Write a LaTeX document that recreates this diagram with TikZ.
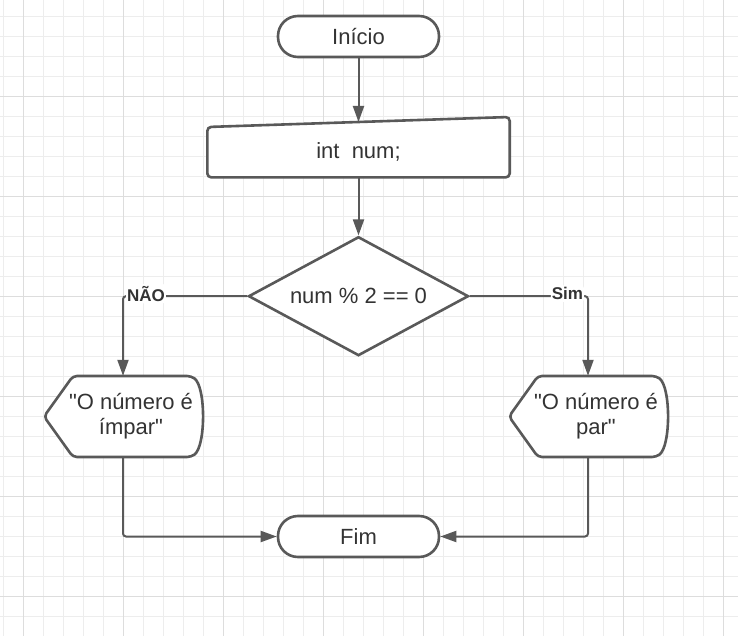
\documentclass[tikz,border=0pt]{standalone}
\usepackage{fontspec}
\setmainfont{Liberation Sans}
\usetikzlibrary{arrows.meta, positioning, shapes.geometric}
\usepackage{xcolor}
\definecolor{linegray}{HTML}{595959}
\definecolor{textgray}{HTML}{333333}
\definecolor{gridminor}{HTML}{EDEDED}
\definecolor{gridmajor}{HTML}{DDDDDD}
\pgfdeclarelayer{back}
\pgfsetlayers{back,main}

\begin{document}
\begin{tikzpicture}[
x=1pt, y=-1pt,
every node/.style={text=textgray, font=\fontsize{22}{25}\selectfont},
terminal/.style={draw=linegray,
fill=white,
line width=2.6pt,
rectangle,
rounded corners=20pt,
minimum width=161pt,
minimum height=41pt},
declbox/.style={rectangle,
minimum width=302pt,
minimum height=50pt},
decision/.style={draw=linegray,
fill=white,
line width=2.6pt,
diamond,
aspect=1.85,
inner sep=0pt,
minimum width=220pt,
minimum height=119pt},
display/.style={rectangle,
align=center,
inner sep=0pt,
minimum height=81pt},
shapeline/.style={draw=linegray, fill=white, line width=2.6pt, rounded corners=4pt},
arrow/.style={-{Triangle[length=16pt, width=11pt]}, draw=linegray, line width=2pt},
branch/.style={fill=white, inner xsep=1pt, inner ysep=2pt, yshift=2.5pt,
font=\fontsize{17}{20}\selectfont\bfseries},
gridthin/.style={draw=gridminor, line width=1pt},
gridthick/.style={draw=gridmajor, line width=1pt}
]

\useasboundingbox (0,0) rectangle (738,636);

\node[terminal] (inicio) at (358.5,36.5) {Início};
\node[declbox, below=68.7pt of inicio] (decl) {int~~num;};
\node[decision, below=58pt of decl] (cond) {num \% 2 == 0};
\node[display] (impar) at (131,416.5) {\textquotedbl O número é\\ ímpar\textquotedbl};
\node[display] (par) at (596,416.5) {\textquotedbl O número é\\ par\textquotedbl};
\node[terminal] (fim) at (358.5,536.5) {Fim};

\coordinate (naojoin) at (cond.west -| 123,0);
\coordinate (simjoin) at (cond.east -| 588,0);

\begin{pgfonlayer}{back}
\fill[white] (0,0) rectangle (738,636);
\foreach \gx in {3,23,...,723} \draw[gridthin] (\gx,0) -- (\gx,636);
\foreach \gy in {16.5,36.5,...,616.5} \draw[gridthin] (0,\gy) -- (738,\gy);
\foreach \gx in {23,123,...,723} \draw[gridthick] (\gx,0) -- (\gx,636);
\foreach \gy in {96.5,196.5,...,596.5} \draw[gridthick] (0,\gy) -- (738,\gy);

\draw[shapeline] (decl.south west) -- (decl.south east) -- ([yshift=10pt]decl.north east) -- (decl.north west) -- cycle;
\draw[shapeline, shift={(impar.center)}] (-87,0) -- (-58,-40.5) -- (60,-40.5) .. controls (75,-30) and (75,30) .. (60,40.5) -- (-58,40.5) -- cycle;
\draw[shapeline, shift={(par.center)}] (-87,0) -- (-58,-40.5) -- (60,-40.5) .. controls (75,-30) and (75,30) .. (60,40.5) -- (-58,40.5) -- cycle;
\end{pgfonlayer}

\draw[arrow] (inicio) -- ([yshift=5pt]decl.north);
\draw[arrow] (decl) -- (cond);
\draw[arrow, rounded corners=3pt] (cond.west) -- node[branch, pos=1, anchor=west, xshift=2pt] {NÃO} (naojoin) -- (naojoin |- impar.north);
\draw[arrow, rounded corners=3pt] (cond.east) -- node[branch, pos=1, anchor=east, xshift=-3pt] {Sim} (simjoin) -- (simjoin |- par.north);
\draw[arrow, rounded corners=3pt] (naojoin |- impar.south) -- (naojoin |- fim.west) -- (fim.west);
\draw[arrow, rounded corners=3pt] (simjoin |- par.south) -- (simjoin |- fim.east) -- (fim.east);

\end{tikzpicture}
\end{document}
